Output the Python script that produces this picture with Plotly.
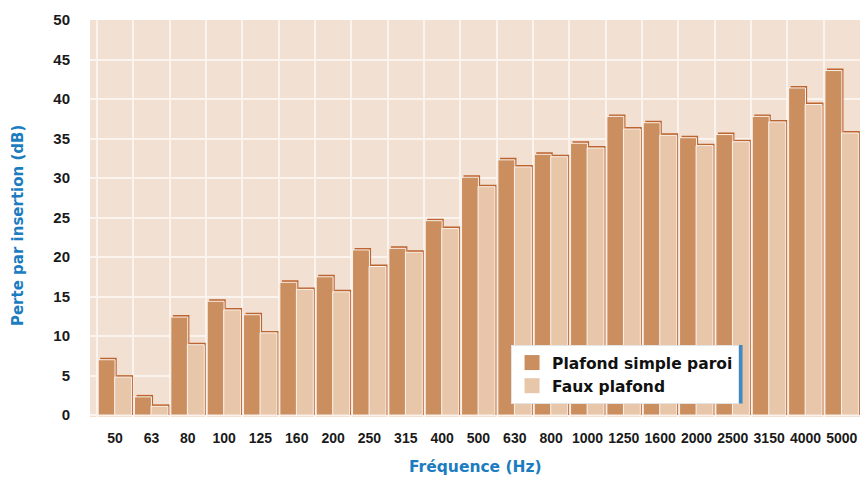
import plotly.graph_objects as go

frequencies = ["50", "63", "80", "100", "125", "160", "200", "250", "315", "400",
               "500", "630", "800", "1000", "1250", "1600", "2000", "2500", "3150",
               "4000", "5000"]
plafond_simple = [7.0, 2.3, 12.4, 14.4, 12.7, 16.8, 17.5, 20.9, 21.1, 24.6, 30.1,
                  32.3, 33.0, 34.4, 37.8, 37.0, 35.1, 35.5, 37.8, 41.4, 43.6]
faux_plafond = [4.8, 1.1, 8.9, 13.3, 10.4, 15.9, 15.6, 18.8, 20.6, 23.6, 28.9,
                31.4, 32.7, 33.8, 36.2, 35.4, 34.1, 34.6, 37.1, 39.3, 35.7]

DARK = "#cb8e5f"
LIGHT = "#e7c6aa"
EDGE = "#bd6530"
BG = "#f2e0d3"
BLUE = "#1b7cc0"

idx = list(range(len(frequencies)))

fig = go.Figure()

# raised edge behind each bar (shifted right and up)
for vals, off in [(plafond_simple, -0.41), (faux_plafond, 0.04)]:
    fig.add_trace(go.Bar(
        x=idx, y=[v + 0.25 for v in vals], offset=off, width=0.455,
        marker=dict(color=EDGE, line=dict(width=0)),
        showlegend=False, hoverinfo="skip",
    ))

for name, vals, col, off in [("Plafond simple paroi", plafond_simple, DARK, -0.465),
                             ("Faux plafond", faux_plafond, LIGHT, -0.01)]:
    fig.add_trace(go.Bar(
        x=idx, y=vals, offset=off, width=0.465, name=name,
        marker=dict(color=col, line=dict(color="#fbf1ea", width=1)),
        showlegend=False,
    ))
    # legend entry
    fig.add_trace(go.Scatter(
        x=[None], y=[None], mode="markers", name=name,
        marker=dict(symbol="square", size=15, color=col),
    ))

# page has an 8px body margin, so the figure is a bit smaller than the window
fig.update_layout(
    width=852, height=469,
    margin=dict(l=82, r=0, t=12, b=60),
    paper_bgcolor="white",
    plot_bgcolor=BG,
    barmode="overlay",
    font=dict(family="Liberation Sans, Arial, sans-serif", color="#1a1a1a"),
    legend=dict(
        x=0.5468, y=0.1814, xanchor="left", yanchor="top",
        bgcolor="white", bordercolor="#e4e4e4", borderwidth=1,
        font=dict(family="DejaVu Sans", size=15.5, color="#111", weight="bold"),
        tracegroupgap=0,
    ),
    showlegend=True,
    # blue drop shadow under the legend box
    shapes=[dict(type="rect", xref="paper", yref="paper",
                 x0=0.5468, x1=0.8475, y0=0.034, y1=0.1814,
                 fillcolor="#3f8ac4", line=dict(width=0), layer="above")],
)

fig.update_xaxes(
    range=[-0.69, 20.5],
    tickvals=idx, ticktext=frequencies,
    tickfont=dict(size=14, family="Liberation Sans", weight="bold"),
    ticks="outside", ticklen=8, tickcolor="rgba(0,0,0,0)",
    showgrid=False, zeroline=False, showline=False,
    minor=dict(tickvals=[i - 0.5 for i in idx] + [20.5], showgrid=True,
               gridcolor="#fbf3ee", gridwidth=2, ticks=""),
)
fig.update_yaxes(
    range=[-0.25, 50],
    tickvals=list(range(0, 51, 5)),
    tickfont=dict(size=15, family="Liberation Sans", weight="bold"),
    ticks="outside", ticklen=16, tickcolor="rgba(0,0,0,0)",
    showgrid=True, gridcolor="#fbf3ee", gridwidth=2,
    zeroline=False, showline=False,
)

fig.add_annotation(
    text="Perte par insertion (dB)", textangle=-90,
    xref="paper", yref="paper", x=-0.0935, y=0.481, xanchor="center", yanchor="middle",
    showarrow=False, font=dict(family="DejaVu Sans", size=15, color=BLUE, weight="bold"),
)
fig.add_annotation(
    text="Fréquence (Hz)",
    xref="paper", yref="paper", x=0.5, y=-0.126, xanchor="center", yanchor="middle",
    showarrow=False, font=dict(family="DejaVu Sans", size=15.5, color=BLUE, weight="bold"),
)

fig.write_html("out.html")
